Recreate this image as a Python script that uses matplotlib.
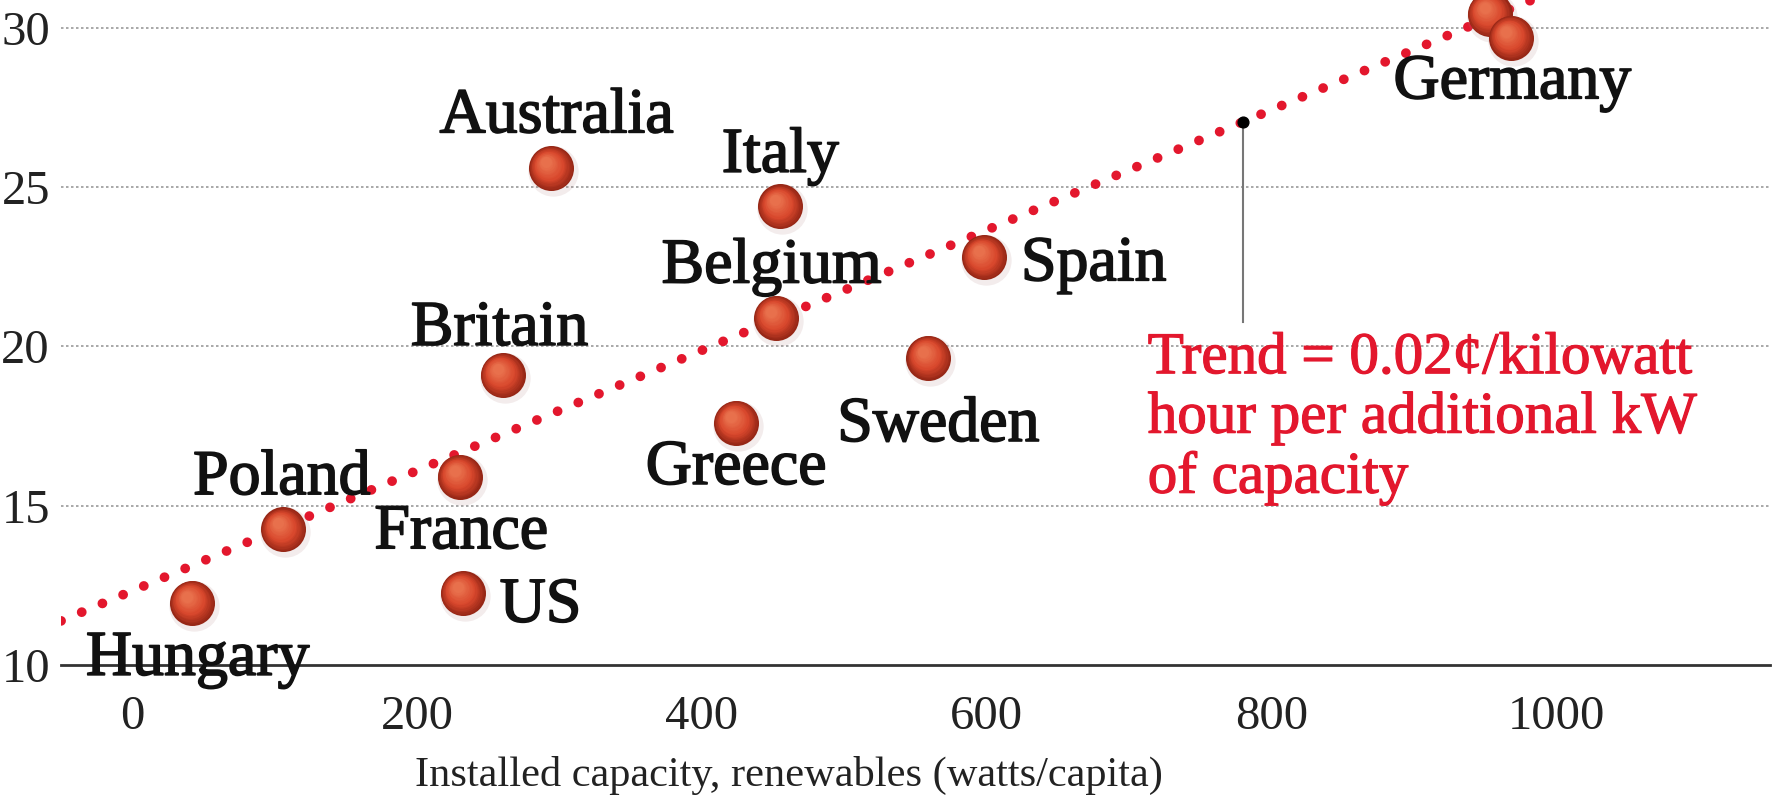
import numpy as np
import matplotlib
matplotlib.use("Agg")
import matplotlib.pyplot as plt
import matplotlib.patheffects as pe
from matplotlib.transforms import ScaledTranslation
from matplotlib.colors import to_rgb

# --- data ---
countries = ["Hungary", "Poland", "France", "US", "Britain", "Australia",
             "Greece", "Belgium", "Italy", "Sweden", "Spain", "", "Germany"]
capacity = [42, 106, 230, 232, 260, 294, 424, 452, 455, 559, 598, 953, 968]
price = [11.95, 14.25, 15.9, 12.25, 19.1, 25.6, 17.6, 20.9, 24.4, 19.65, 22.8, 30.45, 29.7]

# label anchors (x, baseline y, horizontal alignment)
label_x = [46, 105, 231, 258, 258, 298, 424, 449, 455, 566, 624, 0, 969]
label_y = [9.68, 15.36, 13.66, 11.35, 20.05, 26.73, 15.68, 22.01, 25.49, 17.03, 22.08, 0, 27.8]
label_ha = ["center", "center", "center", "left", "center", "center",
            "center", "center", "center", "center", "left", "center", "center"]

trend_slope = 0.0189
trend_intercept = 12.32
trend_note_x = 780
trend_note_bottom = 20.76
trend_text = "Trend = 0.02¢/kilowatt\nhour per additional kW\nof capacity"

x_ticks = [0, 200, 400, 600, 800, 1000]
y_ticks = [10, 15, 20, 25, 30]
x_label = "Installed capacity, renewables (watts/capita)"

SERIF = ["Liberation Serif", "DejaVu Serif"]
RED = "#e3172d"


def thick(color, w=0.9):
    return [pe.withStroke(linewidth=w, foreground=color)]


fig = plt.figure(figsize=(17.73, 7.96), dpi=100)
ax = fig.add_axes([0.0344, 0.165, 0.964, 0.835])
ax.set_xlim(-50, 1150)
ax.set_ylim(10, 30.89)

# grid + axes
for y in y_ticks[1:]:
    ax.axhline(y, color="#9a9a9a", lw=1.2, ls=(0, (1.5, 1.5)), zorder=0)
for s in ["top", "right", "left"]:
    ax.spines[s].set_visible(False)
ax.spines["bottom"].set_color("#333333")
ax.spines["bottom"].set_linewidth(2)
ax.spines["bottom"].set_zorder(1)

ax.set_xticks(x_ticks)
ax.set_xticklabels([str(t) for t in x_ticks], fontfamily=SERIF, fontsize=35, color="#222222")
ax.set_yticks(y_ticks)
ax.set_yticklabels([str(t) for t in y_ticks], fontfamily=SERIF, fontsize=35, color="#222222")
ax.tick_params(axis="x", length=0, pad=22)
ax.tick_params(axis="y", length=0, pad=8)

fig.text(0.445, 0.013, x_label, fontfamily=SERIF, fontsize=30.5, color="#222222",
         ha="center", va="baseline")

# dotted trend line
xl = np.array(ax.get_xlim())
ax.plot(xl, trend_intercept + trend_slope * xl, color=RED, lw=7,
        ls=(0, (0.01, 2.3)), dash_capstyle="round", zorder=2)

# annotation
y_note = trend_intercept + trend_slope * trend_note_x
ax.plot([trend_note_x, trend_note_x], [trend_note_bottom, y_note], color="#777777", lw=1.5, zorder=3)
ax.scatter([trend_note_x], [y_note], s=60, color="black", zorder=4)
ax.text(713, 20.45, trend_text, fontfamily=SERIF, fontsize=42.5, color=RED,
        ha="left", va="top", linespacing=1.12, path_effects=thick(RED))

# shaded "sphere" bubbles
dark = np.array(to_rgb("#962716"))
mid = np.array(to_rgb("#d8472c"))
light = np.array(to_rgb("#e8704c"))
layers = 14
size = 1050
for i, (cx, cy) in enumerate(zip(capacity, price)):
    z = 5 + i
    ax.scatter([cx], [cy], s=size * 1.25, color="#b08080", alpha=0.15, lw=0, zorder=z,
               transform=ax.transData + ScaledTranslation(0.02, -0.03, fig.dpi_scale_trans))
    for k in range(layers):
        f = k / (layers - 1)
        if f < 0.45:
            c = dark + (mid - dark) * (f / 0.45)
        else:
            c = mid + (light - mid) * ((f - 0.45) / 0.55)
        r = 1.0 - 0.75 * f
        off = ScaledTranslation(-0.05 * f, 0.06 * f, fig.dpi_scale_trans)
        ax.scatter([cx], [cy], s=size * r * r, color=c, lw=0, zorder=z,
                   transform=ax.transData + off)

# country labels
for name, lx, ly, ha in zip(countries, label_x, label_y, label_ha):
    if name:
        ax.text(lx, ly, name, fontfamily=SERIF, fontsize=46, color="#111111",
                ha=ha, va="baseline", zorder=30, path_effects=thick("#111111", 1.2))

fig.savefig("out.png", dpi=100, facecolor="white")
